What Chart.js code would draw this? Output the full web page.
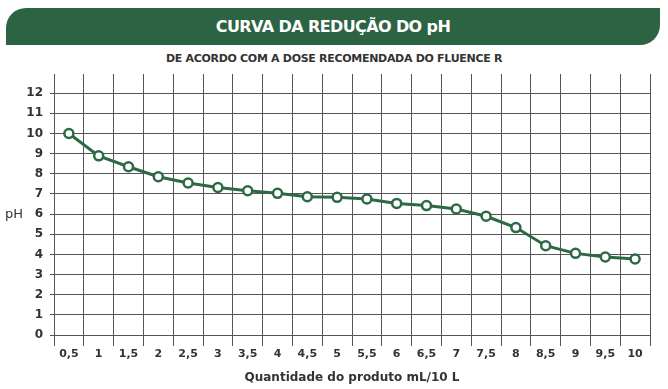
<!DOCTYPE html>
<html>
<head>
<meta charset="utf-8">
<script src="https://cdn.jsdelivr.net/npm/chart.js@4/dist/chart.umd.min.js"></script>
<style>
  html, body { margin: 0; padding: 0; background: #fff; }
  #wrap { position: relative; width: 668px; height: 389px; overflow: hidden; }
  .banner {
    position: absolute; left: 6px; top: 8px; width: 654px; height: 37px;
    background: #2c6343; border-radius: 20px 0 20px 0;
    color: #fff; font: bold 16px "DejaVu Sans", sans-serif;
    display: flex; align-items: center; justify-content: center; letter-spacing: -0.6px;
  }
  .sub {
    position: absolute; left: 0; top: 52px; width: 668px; text-align: center;
    font: bold 11px "DejaVu Sans", sans-serif; color: #333; letter-spacing: -0.3px;
  }
  .chartbox { position: absolute; left: 0; top: 0; width: 668px; height: 389px; }
</style>
</head>
<body>
<div id="wrap">
  <div class="banner">CURVA DA REDUÇÃO DO pH</div>
  <div class="sub">DE ACORDO COM A DOSE RECOMENDADA DO FLUENCE R</div>
  <div class="chartbox"><canvas id="c"></canvas></div>
</div>
<script>
const doses = ['0,5', '1', '1,5', '2', '2,5', '3', '3,5', '4', '4,5', '5',
               '5,5', '6', '6,5', '7', '7,5', '8', '8,5', '9', '9,5', '10'];
const phValues = [10.0, 8.89, 8.35, 7.85, 7.54, 7.32, 7.16, 7.03, 6.86, 6.83,
                  6.75, 6.53, 6.42, 6.25, 5.89, 5.33, 4.43, 4.05, 3.87, 3.77];
const yTicks = [0, 1, 2, 3, 4, 5, 6, 7, 8, 9, 10, 11, 12];

const green = '#2b6a43';
const gridColor = '#555555';
const textColor = '#333333';

// horizontal "pH" axis label (Chart.js would rotate it)
const phLabel = {
  id: 'phLabel',
  afterDraw(chart) {
    const ctx = chart.ctx;
    const y = chart.scales.y.getPixelForValue(6);
    ctx.save();
    ctx.fillStyle = textColor;
    ctx.font = '13px "DejaVu Sans"';
    ctx.textAlign = 'center';
    ctx.textBaseline = 'middle';
    ctx.fillText('pH', 14, y + 1);
    ctx.restore();
  }
};

new Chart(document.getElementById('c'), {
  type: 'line',
  data: {
    labels: doses,
    datasets: [{
      data: phValues,
      borderColor: green,
      borderWidth: 3,
      pointRadius: 4.5,
      pointBorderWidth: 2.5,
      pointBackgroundColor: '#ffffff',
      pointBorderColor: green,
      tension: 0
    }]
  },
  plugins: [phLabel],
  options: {
    responsive: true,
    maintainAspectRatio: false,
    animation: false,
    layout: { padding: { top: 74, left: 8, right: 18, bottom: 4 } },
    plugins: { legend: { display: false }, tooltip: { enabled: false } },
    scales: {
      x: {
        offset: true,
        grid: { offset: true, color: gridColor, lineWidth: 1, tickLength: 11 },
        border: { color: gridColor },
        ticks: { color: textColor, font: { family: 'DejaVu Sans', size: 11, weight: 'bold' }, padding: 2, maxRotation: 0 },
        title: { display: true, text: 'Quantidade do produto mL/10 L', color: textColor,
                 font: { family: 'DejaVu Sans', size: 12, weight: 'bold' }, padding: { top: 2, bottom: 0 } },
        afterFit: s => { s.height = 50; }
      },
      y: {
        min: 0,
        max: 12.95,
        afterBuildTicks: s => { s.ticks = yTicks.map(v => ({ value: v })); },
        grid: { color: gridColor, lineWidth: 1, tickLength: 4 },
        border: { color: gridColor },
        ticks: { color: textColor, font: { family: 'DejaVu Sans', size: 12, weight: 'bold' }, padding: 7 },
        afterFit: s => { s.width = 46; }
      }
    }
  }
});
</script>
</body>
</html>
